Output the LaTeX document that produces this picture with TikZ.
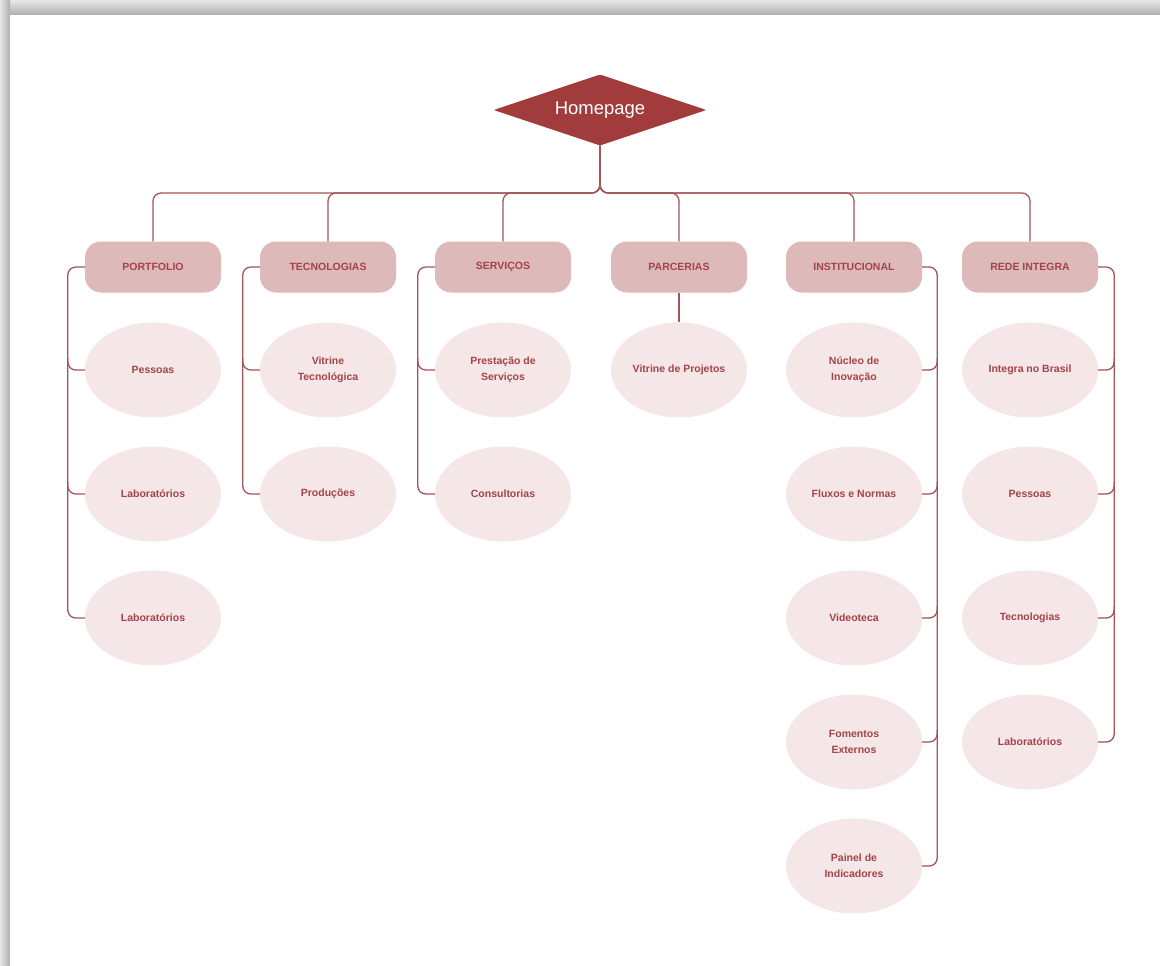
\documentclass[tikz,border=0pt]{standalone}
\usepackage{fontspec}
\setmainfont{Liberation Sans}
\usetikzlibrary{shapes.geometric,calc}
\definecolor{homered}{HTML}{A13B3C}
\definecolor{boxfill}{HTML}{DDB9B9}
\definecolor{ellfill}{HTML}{F5E7E7}
\definecolor{labelred}{HTML}{A3434A}
\definecolor{linered}{HTML}{A5545A}
\begin{document}
\begin{tikzpicture}[x=1pt,y=-1pt,
  home/.style={diamond,aspect=3,fill=homered,text=white,minimum width=213pt,minimum height=71pt,
    inner sep=0pt,rounded corners=2pt,font=\fontsize{18.5}{22}\selectfont},
  cat/.style={rectangle,rounded corners=16pt,fill=boxfill,text=labelred,
    minimum width=136pt,minimum height=51pt,inner sep=0pt,
    font=\bfseries\fontsize{10.5}{16}\selectfont},
  leaf/.style={ellipse,fill=ellfill,text=labelred,minimum width=136pt,minimum height=95pt,
    inner sep=0pt,align=center,font=\bfseries\fontsize{10.5}{16}\selectfont},
  conn/.style={draw=linered,line width=1.3pt,rounded corners=8pt},
]
\useasboundingbox (0,0) rectangle (1160,966);
% page shadow along the top and left edges
\shade[top color=black!9,bottom color=black!32] (0,0) rectangle (1160,15);
\shade[left color=black!9,right color=black!32] (0,0) rectangle (10,966);
\fill[white] (10,15) rectangle (1160,966);

% root
\node[home] (H) at (600,110) {Homepage};
\coordinate (bus) at (600,193);

% section boxes
\node[cat] (P)  at (153,267) {PORTFOLIO};
\node[cat] (T)  at (328,267) {TECNOLOGIAS};
\node[cat] (S)  at (503,267) {SERVIÇOS};
\node[cat] (PA) at (679,267) {PARCERIAS};
\node[cat] (I)  at (854,267) {INSTITUCIONAL};
\node[cat] (R)  at (1030,267) {REDE INTEGRA};

% pages
\node[leaf] (P1) at (153,370) {Pessoas};
\node[leaf] (P2) at (153,494) {Laboratórios};
\node[leaf] (P3) at (153,618) {Laboratórios};

\node[leaf] (T1) at (328,370) {Vitrine\\Tecnológica};
\node[leaf] (T2) at (328,494) {Produções};

\node[leaf] (S1) at (503,370) {Prestação de\\Serviços};
\node[leaf] (S2) at (503,494) {Consultorias};

\node[leaf] (A1) at (679,370) {Vitrine de Projetos};

\node[leaf] (I1) at (854,370) {Núcleo de\\Inovação};
\node[leaf] (I2) at (854,494) {Fluxos e Normas};
\node[leaf] (I3) at (854,618) {Videoteca};
\node[leaf] (I4) at (854,742) {Fomentos\\Externos};
\node[leaf] (I5) at (854,866) {Painel de\\Indicadores};

\node[leaf] (R1) at (1030,370) {Integra no Brasil};
\node[leaf] (R2) at (1030,494) {Pessoas};
\node[leaf] (R3) at (1030,618) {Tecnologias};
\node[leaf] (R4) at (1030,742) {Laboratórios};

% root to sections
\foreach \c in {P,T,S,PA,I,R}
  \draw[conn] (H.south) -- (bus) -| (\c.north);

% spines beside each section
\coordinate (ps) at ($(P.west)+(-17,0)$);
\coordinate (ts) at ($(T.west)+(-17,0)$);
\coordinate (ss) at ($(S.west)+(-17,0)$);
\coordinate (is) at ($(I.east)+(15,0)$);
\coordinate (rs) at ($(R.east)+(16,0)$);

\draw[conn] (P.west) -- (ps) -- (ps |- P3.west) -- (P3.west);
\foreach \e in {P1,P2}
  \draw[conn] ([yshift=12pt]ps |- \e.west) -- (ps |- \e.west) -- (\e.west);

\draw[conn] (T.west) -- (ts) -- (ts |- T2.west) -- (T2.west);
\draw[conn] ([yshift=12pt]ts |- T1.west) -- (ts |- T1.west) -- (T1.west);

\draw[conn] (S.west) -- (ss) -- (ss |- S2.west) -- (S2.west);
\draw[conn] ([yshift=12pt]ss |- S1.west) -- (ss |- S1.west) -- (S1.west);

\draw[conn] (PA.south) -- (A1.north);

\draw[conn] (I.east) -- (is) -- (is |- I5.east) -- (I5.east);
\foreach \e in {I1,I2,I3,I4}
  \draw[conn] ([yshift=12pt]is |- \e.east) -- (is |- \e.east) -- (\e.east);

\draw[conn] (R.east) -- (rs) -- (rs |- R4.east) -- (R4.east);
\foreach \e in {R1,R2,R3}
  \draw[conn] ([yshift=12pt]rs |- \e.east) -- (rs |- \e.east) -- (\e.east);
\end{tikzpicture}
\end{document}
